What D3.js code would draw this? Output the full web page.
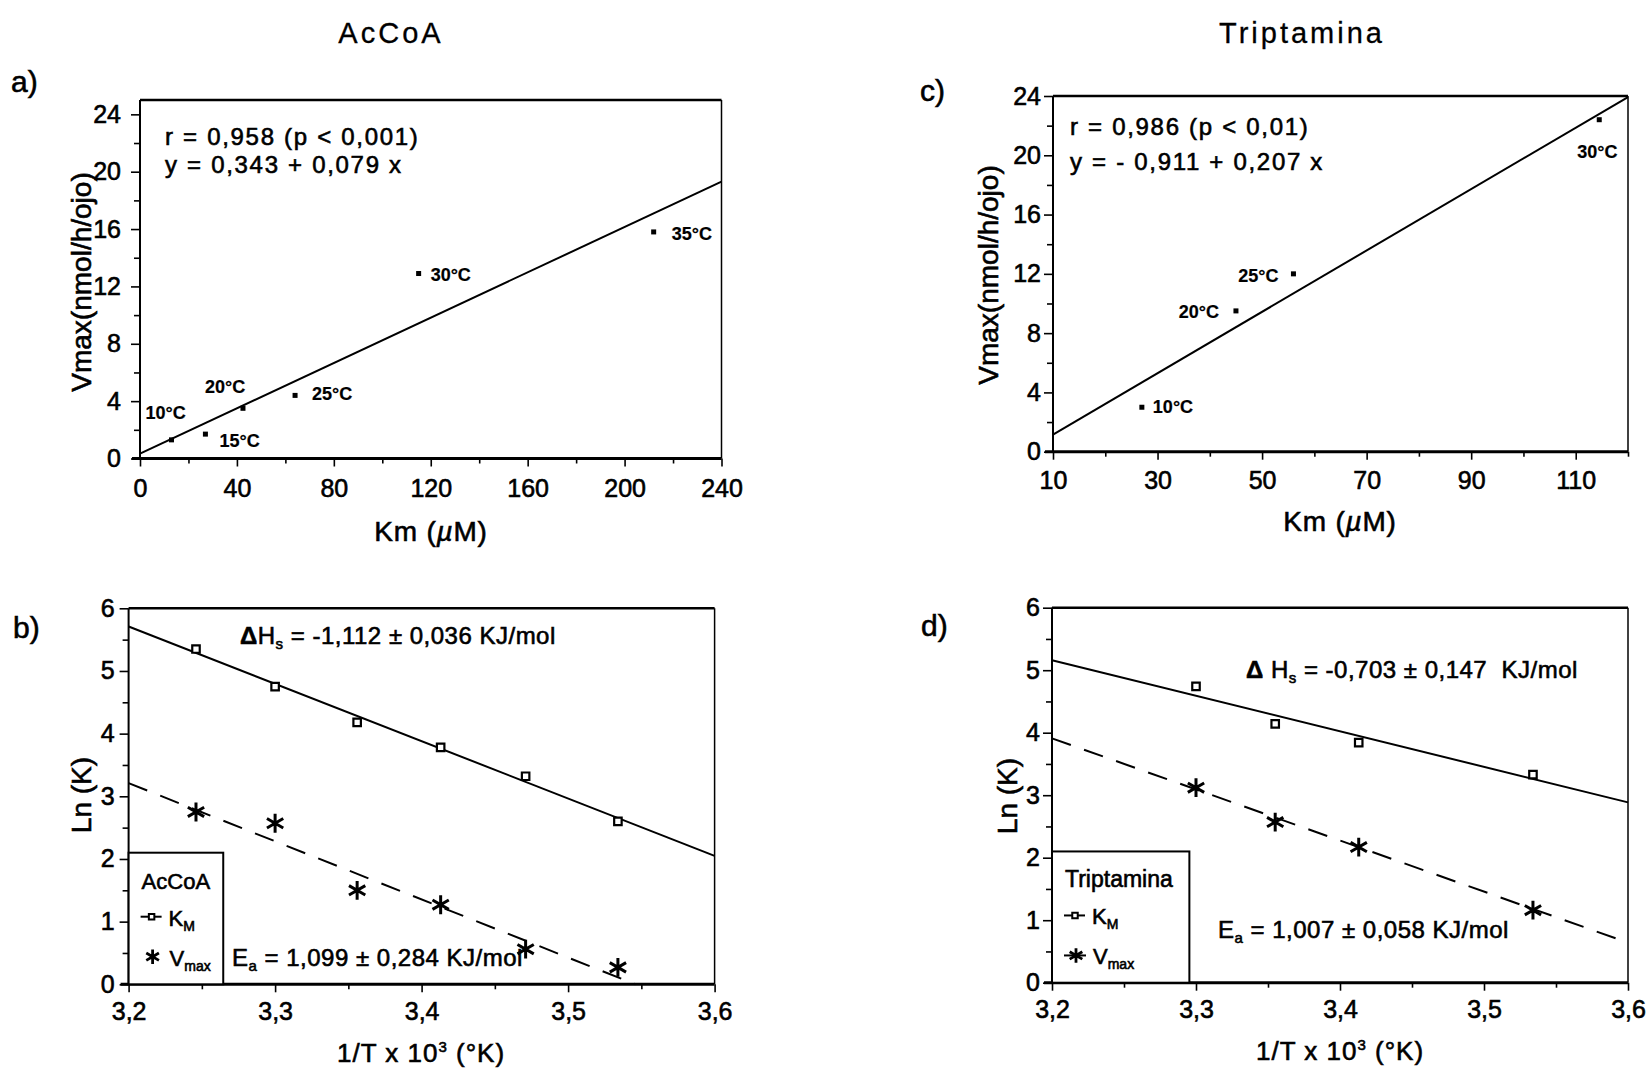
<!DOCTYPE html>
<meta charset="utf-8">
<html>
<head>
<title>AcCoA / Triptamina</title>
<script src="https://d3js.org/d3.v7.min.js"></script>
<style>
  body {margin: 0; background: #fff;}
  svg text {font-family: "Liberation Sans", Arial, sans-serif; fill: #000;
            stroke: #000; stroke-width: 0.6px;}
  .axis .domain {display: none;}
  .axis line {stroke: #000; stroke-width: 1.6px;}
  .axis text {font-size: 25px; font-family: "Liberation Sans", Arial, sans-serif;}
  .title {font-size: 29px; letter-spacing: 3px; stroke-width: 0.3px;}
  .letter {font-size: 30px;}
  .note {font-size: 24px; letter-spacing: 1.7px;}
  .const {font-size: 24px; letter-spacing: 0.5px;}
  .ptlab {font-size: 18px; font-weight: bold; stroke-width: 0.2px;}
  .alab {font-size: 28px;}
  .leg {font-size: 22px;}
  .fit {fill: none; stroke: #000; stroke-width: 2px;}
  .dash {stroke-dasharray: 20,14;}
</style>
</head>
<body>
<svg id="chart" width="1649" height="1068"></svg>
<script>
// ---- a) AcCoA : Vmax vs Km
var tempsA = ["10°C", "15°C", "20°C", "25°C", "30°C", "35°C"];
var kmA = [13, 27, 42.5, 64, 115, 212];
var vmaxA = [1.3, 1.7, 3.5, 4.4, 12.9, 15.8];
var fitA = [0.343, 0.079];          // y = a + b x
var xTicksA = [0, 40, 80, 120, 160, 200, 240];
var yTicksA = [0, 4, 8, 12, 16, 20, 24];

// ---- c) Triptamina : Vmax vs Km
var tempsC = ["10°C", "20°C", "25°C", "30°C"];
var kmC = [27, 45, 56, 114.5];
var vmaxC = [3.0, 9.5, 12.0, 22.4];
var fitC = [-0.911, 0.207];
var xTicksC = [10, 30, 50, 70, 90, 110];
var yTicksC = [0, 4, 8, 12, 16, 20, 24];

// ---- b) AcCoA : Arrhenius
var invTB = [3.246, 3.300, 3.356, 3.413, 3.471, 3.534];
var lnKmB = [5.35, 4.75, 4.18, 3.78, 3.32, 2.60];
var lnVmaxB = [2.75, 2.57, 1.50, 1.27, 0.56, 0.27];
var kmLineB = [[3.2, 5.71], [3.6, 2.05]];
var vmaxLineB = [[3.2, 3.21], [3.546, 0]];

// ---- d) Triptamina : Arrhenius
var invTD = [3.300, 3.355, 3.413, 3.534];
var lnKmD = [4.74, 4.14, 3.84, 3.33];
var lnVmaxD = [3.12, 2.57, 2.17, 1.16];
var kmLineD = [[3.2, 5.16], [3.6, 2.885]];
var vmaxLineD = [[3.2, 3.91], [3.6, 0.64]];

var xTicksT = [3.2, 3.3, 3.4, 3.5, 3.6];
var yTicksLn = [0, 1, 2, 3, 4, 5, 6];

var svg = d3.select("#chart");

function halfSteps(ticks) {
  var out = [];
  for (var i = 0; i < ticks.length - 1; i++) out.push((ticks[i] + ticks[i + 1]) / 2);
  return out;
}

function panel(p) {
  var x = d3.scaleLinear().domain(p.xDomain).range(p.xRange),
      y = d3.scaleLinear().domain(p.yDomain).range(p.yRange);
  var g = svg.append("g");
  var xFmt = p.xFmt || String, yFmt = p.yFmt || String;
  var xMinor = p.xMinor || halfSteps(p.xTicks);

  g.append("g").attr("class", "axis")
      .attr("transform", "translate(0," + p.yRange[0] + ")")
      .call(d3.axisBottom(x).tickValues(xMinor).tickSize(5).tickFormat(""));
  g.append("g").attr("class", "axis")
      .attr("transform", "translate(0," + p.yRange[0] + ")")
      .call(d3.axisBottom(x).tickValues(p.xTicks).tickSize(8).tickPadding(p.xPad).tickFormat(xFmt));
  g.append("g").attr("class", "axis")
      .attr("transform", "translate(" + p.xRange[0] + ",0)")
      .call(d3.axisLeft(y).tickValues(halfSteps(p.yTicks)).tickSize(6).tickFormat(""));
  g.append("g").attr("class", "axis")
      .attr("transform", "translate(" + p.xRange[0] + ",0)")
      .call(d3.axisLeft(y).tickValues(p.yTicks).tickSize(9).tickPadding(p.yPad).tickFormat(yFmt));

  // frame: heavy top/bottom, lighter sides
  var x0 = p.xRange[0], x1 = p.xRange[1], yb = p.yRange[0], yt = p.yRange[1];
  g.append("line").attr("x1", x0 - 8).attr("x2", x1).attr("y1", yb).attr("y2", yb)
      .attr("stroke", "#000").attr("stroke-width", 3);
  g.append("line").attr("x1", x0).attr("x2", x1).attr("y1", yt).attr("y2", yt)
      .attr("stroke", "#000").attr("stroke-width", 2.5);
  g.append("line").attr("x1", x0).attr("x2", x0).attr("y1", yt).attr("y2", yb)
      .attr("stroke", "#000").attr("stroke-width", 2);
  g.append("line").attr("x1", x1).attr("x2", x1).attr("y1", yt).attr("y2", yb)
      .attr("stroke", "#000").attr("stroke-width", 1.5);
  return {g: g, x: x, y: y};
}

function text(sel, cls, x, y, s, anchor) {
  return sel.append("text").attr("class", cls).attr("x", x).attr("y", y)
      .attr("text-anchor", anchor || "start").text(s);
}

function yTitle(g, x, y, s) {
  g.append("text").attr("class", "alab")
      .attr("transform", "translate(" + x + "," + y + ") rotate(-90)")
      .attr("text-anchor", "middle").attr("dy", "0.35em").text(s);
}

function kmTitle(g, x, y) {
  var t = g.append("text").attr("class", "alab").attr("x", x).attr("y", y)
      .attr("text-anchor", "middle").style("letter-spacing", "0.8px");
  t.append("tspan").text("Km (");
  t.append("tspan").style("font-style", "italic").text("\u00b5");
  t.append("tspan").text("M)");
}

function invTitle(g, x, y) {
  var t = g.append("text").attr("class", "alab").attr("x", x).attr("y", y)
      .attr("text-anchor", "middle").style("font-size", "26px").style("letter-spacing", "1px");
  t.append("tspan").text("1/T x 10");
  t.append("tspan").attr("dy", -10).style("font-size", "15px").text("3");
  t.append("tspan").attr("dy", 10).text(" (\u00b0K)");
}

// text with a subscript in the middle: pre + sub + post
function subText(g, x, y, bold, pre, sub, post) {
  var t = g.append("text").attr("class", "const").attr("x", x).attr("y", y)
      .style("white-space", "pre");
  if (bold) t.append("tspan").style("font-weight", "bold").text(bold);
  t.append("tspan").text(pre);
  t.append("tspan").attr("dy", 5).style("font-size", "15px").text(sub);
  t.append("tspan").attr("dy", -5).text(post);
}

var sq = d3.symbol().type(d3.symbolSquare);
var star = d3.symbol().type(d3.symbolAsterisk);

// ---------- titles and panel letters
text(svg, "title", 391, 43, "AcCoA", "middle");
text(svg, "title", 1302, 43, "Triptamina", "middle");
text(svg, "letter", 11, 92, "a)");
text(svg, "letter", 920, 101, "c)");
text(svg, "letter", 13, 638, "b)");
text(svg, "letter", 921, 636, "d)");

// ---------- panel a
var A = panel({xDomain: [0, 240], xRange: [140, 721.5], yDomain: [0, 25], yRange: [458.5, 100],
               xTicks: xTicksA, yTicks: yTicksA, xPad: 13, yPad: 10});
A.g.append("line").attr("class", "fit")
    .attr("x1", A.x(0)).attr("y1", A.y(fitA[0]))
    .attr("x2", A.x(240)).attr("y2", A.y(fitA[0] + fitA[1] * 240));
var labA = [[-26, -21, "start"], [14, 13, "start"], [-38, -15, "start"],
            [17, 5, "start"], [12, 7, "start"], [18, 8, "start"]];
kmA.forEach(function(k, i) {
  A.g.append("rect").attr("x", A.x(k) - 2.5).attr("y", A.y(vmaxA[i]) - 2.5)
      .attr("width", 5).attr("height", 5);
  text(A.g, "ptlab", A.x(k) + labA[i][0], A.y(vmaxA[i]) + labA[i][1], tempsA[i], labA[i][2]);
});
text(A.g, "note", 165, 145, "r = 0,958 (p < 0,001)");
text(A.g, "note", 165, 173, "y = 0,343 + 0,079 x");
yTitle(A.g, 81, 282, "Vmax(nmol/h/ojo)");
kmTitle(A.g, 431, 541);

// ---------- panel c
var C = panel({xDomain: [10, 120], xRange: [1053, 1628], yDomain: [0, 24], yRange: [451.7, 96],
               xTicks: xTicksC, xMinor: [20, 40, 60, 80, 100, 120], yTicks: yTicksC, xPad: 12, yPad: 3});
C.g.append("line").attr("class", "fit")
    .attr("x1", C.x(10)).attr("y1", C.y(fitC[0] + fitC[1] * 10))
    .attr("x2", C.x(120)).attr("y2", C.y(fitC[0] + fitC[1] * 120));
var labC = [[11, 6, "start"], [-17, 7, "end"], [-15, 8, "end"], [-22, 38, "start"]];
kmC.forEach(function(k, i) {
  C.g.append("rect").attr("x", C.x(k) - 2.5).attr("y", C.y(vmaxC[i]) - 2.5)
      .attr("width", 5).attr("height", 5);
  text(C.g, "ptlab", C.x(k) + labC[i][0], C.y(vmaxC[i]) + labC[i][1], tempsC[i], labC[i][2]);
});
text(C.g, "note", 1070, 135, "r = 0,986 (p < 0,01)");
text(C.g, "note", 1070, 170, "y = - 0,911 + 0,207 x");
yTitle(C.g, 988, 275, "Vmax(nmol/h/ojo)");
kmTitle(C.g, 1340, 531);

// ---------- Arrhenius panels
var commaFmt = function(d) { return d.toFixed(1).replace(".", ","); };

function arrhenius(P, invT, lnKm, lnVmax, kmLine, vmaxLine, legend) {
  var line = d3.line().x(function(d) { return P.x(d[0]); }).y(function(d) { return P.y(d[1]); });
  P.g.append("path").attr("class", "fit").attr("d", line(kmLine));
  P.g.append("path").attr("class", "fit dash").attr("d", line(vmaxLine));
  invT.forEach(function(t, i) {
    P.g.append("path").attr("d", sq.size(56)())
        .attr("transform", "translate(" + P.x(t) + "," + P.y(lnKm[i]) + ")")
        .attr("fill", "#fff").attr("stroke", "#000").attr("stroke-width", 2.2);
    P.g.append("path").attr("d", star.size(250)())
        .attr("transform", "translate(" + P.x(t) + "," + P.y(lnVmax[i]) + ")")
        .attr("fill", "none").attr("stroke", "#000").attr("stroke-width", 3);
  });
  // legend box
  var lx = P.x(3.2), ly = P.y(2.1), lr = P.x(legend.right);
  P.g.append("rect").attr("x", lx).attr("y", ly).attr("width", lr - lx)
      .attr("height", P.y(0) - ly).attr("fill", "#fff").attr("stroke", "#000").attr("stroke-width", 2);
  text(P.g, "leg", lx + 13, ly + 36, legend.name).style("font-size", legend.size + "px");
  P.g.append("line").attr("x1", lx + 12).attr("x2", lx + 33).attr("y1", ly + 64).attr("y2", ly + 64)
      .attr("stroke", "#000").attr("stroke-width", 2);
  P.g.append("path").attr("d", sq.size(30)())
      .attr("transform", "translate(" + (lx + 23) + "," + (ly + 64) + ")")
      .attr("fill", "#fff").attr("stroke", "#000").attr("stroke-width", 2);
  if (legend.vLine) {
    P.g.append("line").attr("x1", lx + 12).attr("x2", lx + 34).attr("y1", ly + 104).attr("y2", ly + 104)
        .attr("stroke", "#000").attr("stroke-width", 2);
  }
  P.g.append("path").attr("d", star.size(150)())
      .attr("transform", "translate(" + (lx + 24) + "," + (ly + 104) + ")")
      .attr("fill", "none").attr("stroke", "#000").attr("stroke-width", 2.8);
  var k = text(P.g, "leg", lx + 40, ly + 73, "K");
  k.append("tspan").attr("dy", 5).style("font-size", "14px").text("M");
  var v = text(P.g, "leg", lx + 41, ly + 113, "V");
  v.append("tspan").attr("dy", 5).style("font-size", "14px").text("max");
}

var B = panel({xDomain: [3.2, 3.6], xRange: [128.6, 714.6], yDomain: [0, 6], yRange: [984.3, 608.3],
               xTicks: xTicksT, yTicks: yTicksLn, xPad: 10, yPad: 5, xFmt: commaFmt});
arrhenius(B, invTB, lnKmB, lnVmaxB, kmLineB, vmaxLineB,
          {right: 3.2646, name: "AcCoA", size: 22, vLine: false});
subText(B.g, 240, 644, "\u0394", "H", "s", " = -1,112 \u00b1 0,036 KJ/mol");
subText(B.g, 232, 966, "", "E", "a", " = 1,099 \u00b1 0,284 KJ/mol");
yTitle(B.g, 81, 795, "Ln (K)");
invTitle(B.g, 421, 1062);

var D = panel({xDomain: [3.2, 3.6], xRange: [1052, 1628], yDomain: [0, 6], yRange: [982.7, 607.7],
               xTicks: xTicksT, yTicks: yTicksLn, xPad: 10, yPad: 3, xFmt: commaFmt});
arrhenius(D, invTD, lnKmD, lnVmaxD, kmLineD, vmaxLineD,
          {right: 3.2954, name: "Triptamina", size: 23, vLine: true});
subText(D.g, 1246, 678, "\u0394", " H", "s", " = -0,703 \u00b1 0,147  KJ/mol");
subText(D.g, 1218, 938, "", "E", "a", " = 1,007 \u00b1 0,058 KJ/mol");
yTitle(D.g, 1007, 796, "Ln (K)");
invTitle(D.g, 1340, 1060);
</script>
</body>
</html>
